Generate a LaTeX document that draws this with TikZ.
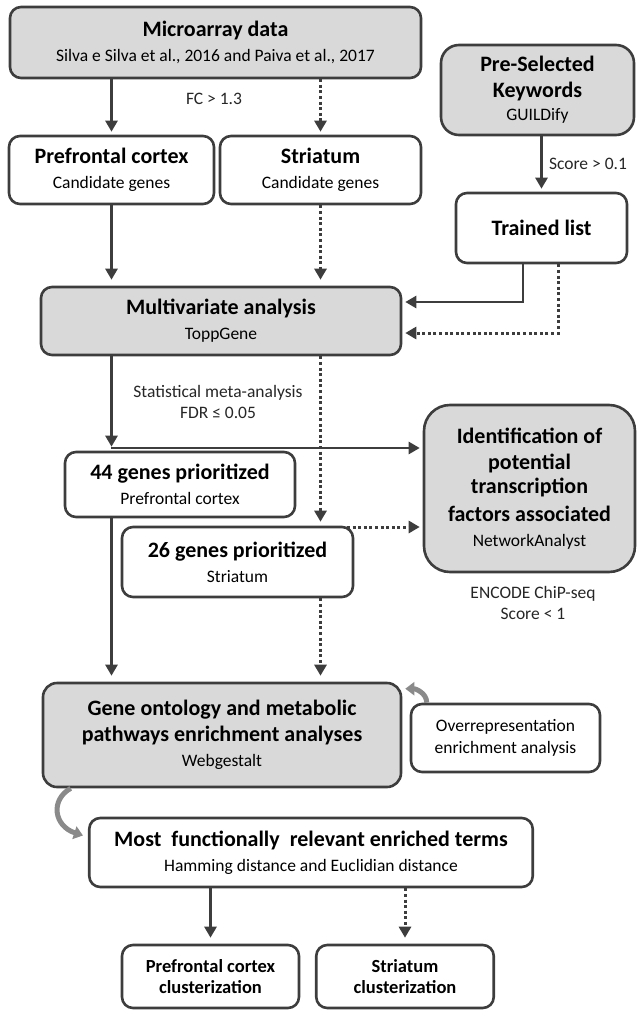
\documentclass[tikz,border=0pt]{standalone}
\usepackage{fontspec}
\setmainfont{Carlito}
\usetikzlibrary{arrows.meta,calc}
\definecolor{bd}{HTML}{3D3D3D}
\definecolor{gfill}{HTML}{D9D9D9}
\definecolor{curv}{HTML}{8A8A8A}
\newcommand{\ttl}[1]{{\fontsize{22}{25}\selectfont\bfseries #1}}
\newcommand{\subt}[1]{{\fontsize{17.5}{25}\selectfont #1}}
\newcommand{\ctl}[1]{{\fontsize{18.5}{21}\selectfont\bfseries #1}}
\tikzset{
  box/.style={draw=bd, line width=2.6pt, rounded corners=11pt, fill=white, align=center, inner sep=0pt,
    font=\fontsize{17.5}{25}\selectfont},
  gbox/.style={box, fill=gfill},
  cbox/.style={box, font=\fontsize{18.5}{21.5}\selectfont},
  lbl/.style={align=center, inner sep=0pt, font=\fontsize{17.5}{21}\selectfont, text=black!85},
  arr/.style={draw=bd, line width=2.6pt, -{Triangle[length=11pt,width=12pt]}},
  darr/.style={arr, line width=3pt, dash pattern=on 3pt off 2.6pt},
  garr/.style={draw=curv, line width=5pt, -{Triangle[length=9pt,width=13pt]}}
}
\begin{document}
\begin{tikzpicture}[x=1pt,y=-1pt]
\useasboundingbox (0,0) rectangle (638,1011);
% boxes
\node[gbox, minimum width=411pt, minimum height=71pt] (micro) at (215.5,42.5)
  {\ttl{Microarray data}\\\subt{Silva e Silva et al., 2016 and Paiva et al., 2017}};
\node[gbox, minimum width=193pt, minimum height=90pt, rounded corners=18pt] (presel) at (537.5,90)
  {\ttl{Pre-Selected}\\[1pt]\ttl{Keywords}\\[-2pt]\subt{GUILDify}};
\node[box, minimum width=205pt, minimum height=68pt] (pfc) at (111.5,170)
  {\ttl{Prefrontal cortex}\\\subt{Candidate genes}};
\node[box, minimum width=201pt, minimum height=68pt] (str) at (320.5,170)
  {\ttl{Striatum}\\\subt{Candidate genes}};
\node[box, minimum width=171pt, minimum height=70pt] (trained) at (541.5,228)
  {\ttl{Trained list}};
\node[gbox, minimum width=360pt, minimum height=68pt] (multi) at (221,321)
  {\ttl{Multivariate analysis}\\\subt{ToppGene}};
\node[box, minimum width=230pt, minimum height=65pt] (g44) at (180,484.5)
  {\ttl{44 genes prioritized}\\\subt{Prefrontal cortex}};
\node[box, minimum width=231pt, minimum height=70pt] (g26) at (237.5,562)
  {\ttl{26 genes prioritized}\\\subt{Striatum}};
\node[gbox, minimum width=211pt, minimum height=167pt, rounded corners=26pt] (ident) at (529.5,488.5)
  {\ttl{Identification of}\\[1pt]\ttl{potential}\\[-1pt]\ttl{transcription}\\[3pt]\ttl{factors associated}\\\subt{NetworkAnalyst}};
\node[gbox, minimum width=358pt, minimum height=104pt, rounded corners=14pt] (go) at (222,735)
  {\ttl{Gene ontology and metabolic}\\[1pt]\ttl{pathways enrichment analyses}\\\subt{Webgestalt}};
\node[box, minimum width=189pt, minimum height=68pt, font=\fontsize{17.5}{22}\selectfont] (over) at (505.5,738)
  {Overrepresentation\\enrichment analysis};
\node[cbox, minimum width=443.5pt, minimum height=69pt, font=\fontsize{17.5}{25}\selectfont] (most) at (311,852.5)
  {\ttl{Most\ \ functionally\ \ relevant enriched terms}\\\subt{Hamming distance and Euclidian distance}};
\node[cbox, minimum width=177pt, minimum height=63pt] (pfcc) at (210.5,976.5)
  {\ctl{Prefrontal cortex}\\\ctl{clusterization}};
\node[cbox, minimum width=177.5pt, minimum height=63pt] (strc) at (405,976.5)
  {\ctl{Striatum}\\\ctl{clusterization}};
% labels
\node[lbl] (fc) at (214,99) {FC > 1.3};
\node[lbl] (score) at (588,164) {Score > 0.1};
\node[lbl] (stat) at (218,402) {Statistical meta-analysis\\FDR ≤ 0.05};
\node[lbl] (encode) at (533,603) {ENCODE ChiP-seq\\Score < 1};
% connectors
\draw[arr, shorten >=3pt] (pfc.north |- micro.south) -- (pfc.north);
\draw[darr, shorten >=3pt] (str.north |- micro.south) -- (str.north);
\draw[arr, shorten >=3pt] (presel.south -| trained.north) -- (trained.north);
\draw[arr, shorten >=6pt] (pfc.south) -- (pfc.south |- multi.north);
\draw[darr, shorten >=6pt] (str.south) -- (str.south |- multi.north);
\draw[arr, shorten >=3pt] ([xshift=-18.5pt]trained.south) |- ([yshift=19pt]multi.east);
\draw[darr, shorten >=3pt] ([xshift=16.5pt]trained.south) |- ([yshift=-12pt]multi.east);
\draw[arr, shorten >=4pt] (multi.south -| pfc.south) -- (g44.north -| pfc.south);
\draw[darr, shorten >=4pt] (multi.south -| str.south) -- (g26.north -| str.south);
\coordinate (j44) at (111,448);
\draw[arr, shorten >=3pt] (j44) -- (j44 -| ident.west);
\coordinate (j26) at (347,527);
\draw[darr, shorten >=3pt] (j26) -- (j26 -| ident.west);
\draw[arr, shorten >=6pt] (g44.south -| pfc.south) -- (go.north -| pfc.south);
\draw[darr, shorten >=6pt] (g26.south -| str.south) -- (go.north -| str.south);
\draw[garr] ([xshift=17pt]over.north west) to[out=90,in=0] ([shift={(3pt,-7pt)}]go.north east);
\draw[garr] ([xshift=29pt]go.south west) .. controls (50,800) and (54,826) .. ([shift={(-5pt,17pt)}]most.west);
\draw[arr, shorten >=6pt] (most.south -| pfcc.north) -- (pfcc.north);
\draw[darr, shorten >=6pt] (most.south -| strc.north) -- (strc.north);
\end{tikzpicture}
\end{document}
